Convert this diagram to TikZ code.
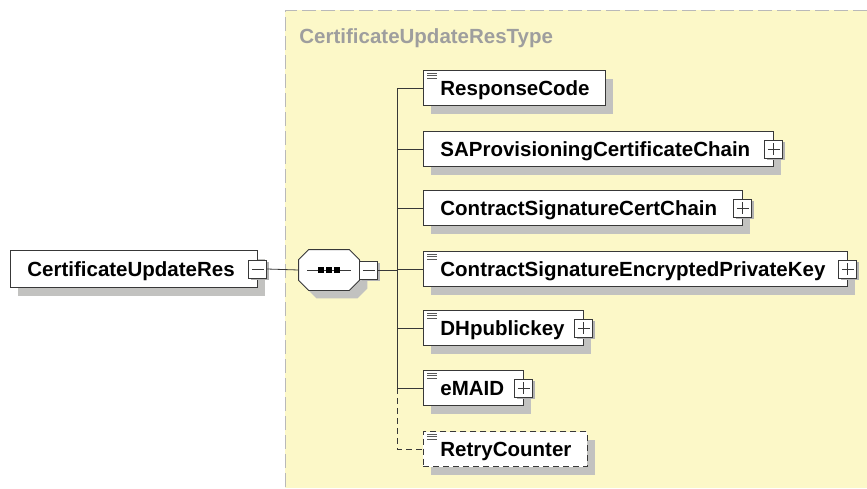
\documentclass[tikz,border=0pt]{standalone}
\usepackage{fontspec}
\setmainfont{Liberation Sans}
\usepackage{tikz}
\usetikzlibrary{shadows}
\definecolor{xsYellow}{HTML}{FCF8C8}
\definecolor{xsShadow}{HTML}{C2C2C0}
\definecolor{xsTitle}{HTML}{9E9E9E}
\definecolor{xsLine}{HTML}{383838}
\newcommand{\elemfont}{\fontsize{20.5}{24}\selectfont\bfseries}

\begin{document}
\begin{tikzpicture}[x=1pt,y=-1pt,line width=0.8pt,
  elem/.style={draw=xsLine,fill=white,anchor=west,minimum height=35,inner xsep=17,inner ysep=0,
    text width=#1pt,align=left,text height=17pt,text depth=2pt,font=\elemfont,
    drop shadow={shadow xshift=8pt,shadow yshift=-8pt,opacity=1,fill=xsShadow}},
  pmbox/.style={draw=xsLine,fill=white,minimum size=18,inner sep=0,
    drop shadow={shadow xshift=2pt,shadow yshift=-2pt,opacity=1,fill=gray!60}},
  minusbox/.style={pmbox,path picture={
    \draw[xsLine] ([xshift=3pt]path picture bounding box.west) -- ([xshift=-3pt]path picture bounding box.east);}},
  plusbox/.style={pmbox,path picture={
    \draw[xsLine] ([xshift=3pt]path picture bounding box.west) -- ([xshift=-3pt]path picture bounding box.east);
    \draw[xsLine] ([yshift=-3pt]path picture bounding box.north) -- ([yshift=3pt]path picture bounding box.south);}},
  seqbox/.style={minimum width=60,minimum height=40,inner sep=0},
  octshadow/.style={fill=xsShadow},
  octface/.style={draw=xsLine,fill=white},
  title/.style={font=\elemfont,text=xsTitle,inner sep=0}]
\useasboundingbox (0,0) rectangle (867,488);
\fill[xsYellow] (285,10) rectangle (867,488);
\draw[gray!55,dash pattern=on 14pt off 5pt] (867,10) -- (285,10) -- (285,488);
\node[title,anchor=base west] (ttl) at (299,43) {CertificateUpdateResType};

\node[elem={213},minimum height=37] (root) at (10,269) {CertificateUpdateRes};
\node[minusbox] (root-pm) at (root.east) {};
\node[seqbox] (seq) at (329,270) {};
\foreach \s/\st in {8/octshadow,0/octface}
  \path[\st] ([xshift={10pt+\s pt},yshift=-\s pt]seq.north west)
    -- ([xshift={-10pt+\s pt},yshift=-\s pt]seq.north east)
    -- ([xshift=\s pt,yshift={-10pt-\s pt}]seq.north east)
    -- ([xshift=\s pt,yshift={10pt-\s pt}]seq.south east)
    -- ([xshift={-10pt+\s pt},yshift=-\s pt]seq.south east)
    -- ([xshift={10pt+\s pt},yshift=-\s pt]seq.south west)
    -- ([xshift=\s pt,yshift={10pt-\s pt}]seq.south west)
    -- ([xshift=\s pt,yshift={-10pt-\s pt}]seq.north west) -- cycle;
\node[minusbox,anchor=west] (seq-pm) at (seq.east) {};
\draw[xsLine] ([xshift=-22pt]seq.center) -- ([xshift=22pt]seq.center);
\foreach \dx in {-8,0,8}
  \fill[black] ([xshift=\dx pt]seq.center) +(-3,-3) rectangle +(3,3);

\node[elem={148}] (resp) at (423,88) {ResponseCode};
\node[elem={316}] (sapcc) at (423,149) {SAProvisioningCertificateChain};
\node[elem={285}] (cscc) at (423,208) {ContractSignatureCertChain};
\node[elem={390}] (csepk) at (423,269) {ContractSignatureEncryptedPrivateKey};
\node[elem={126}] (dhkey) at (423,328) {DHpublickey};
\node[elem={66}] (emaid) at (423,388) {eMAID};
\node[elem={130},dash pattern=on 6pt off 4pt] (retry) at (423,449) {RetryCounter};
\foreach \n in {sapcc,cscc,csepk,dhkey,emaid}
  \node[plusbox] (\n-pm) at (\n.east) {};
\foreach \n in {resp,csepk,dhkey,emaid,retry}
  \foreach \dy in {3,5.5,8}
    \draw[gray!70!black,line width=0.7pt] ([xshift=4pt,yshift=-\dy pt]\n.north west) -- ++(10,0);

\coordinate (bus) at (397,270);
\draw[xsLine] (root-pm.east) -- (seq.west);
\draw[xsLine] (seq-pm.east) -- (bus);
\draw[xsLine] (bus |- resp.west) -- (bus |- emaid.west);
\foreach \n in {resp,sapcc,cscc,csepk,dhkey,emaid}
  \draw[xsLine] (bus |- \n.west) -- (\n.west);
\draw[xsLine,dash pattern=on 6pt off 4pt] (bus |- emaid.west) -- (bus |- retry.west) -- (retry.west);
\end{tikzpicture}
\end{document}
